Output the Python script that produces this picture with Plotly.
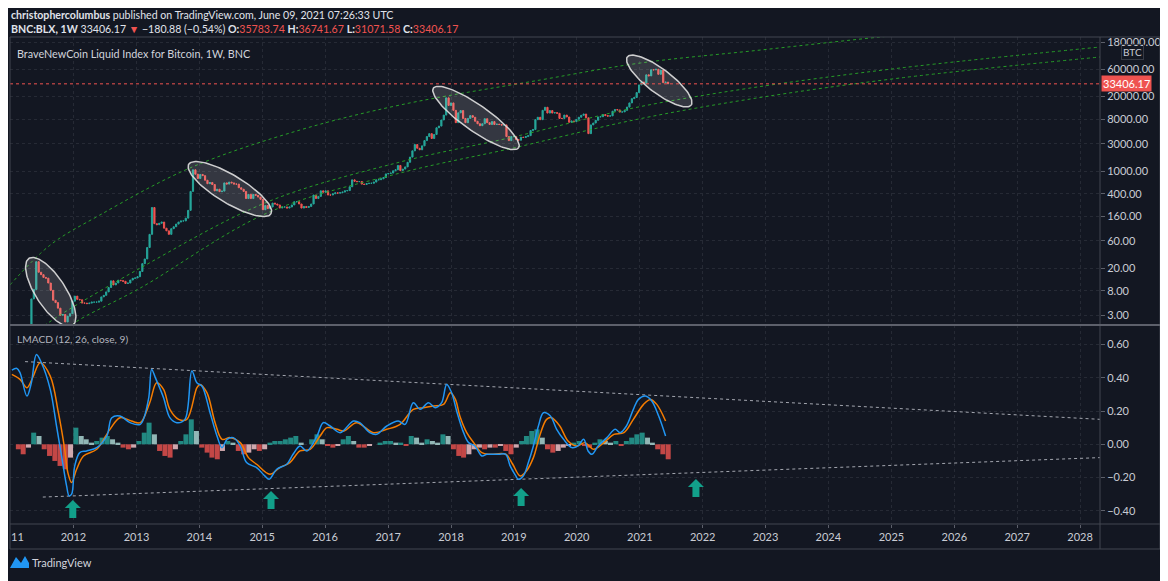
import math
import pandas as pd
import plotly.graph_objects as go

# ---------------------------------------------------------------- data
first_open = 1.6
candle_start = "2011-04-25"          # bi-weekly candles
closes_2011 = [5.8, 8.5, 26.0, 17.0, 15.4, 13.8, 13.4, 11.0, 8.2, 5.5, 5.0, 4.0, 3.0, 3.1, 2.3, 2.9, 3.2, 5.3]
closes_2012 = [6.5, 5.7, 5.6, 4.9, 4.9, 4.8, 4.9, 5.1, 5.1, 5.1, 5.3, 6.3, 6.7, 7.7, 9.2, 12.0, 10.2, 11.0,
               12.3, 12.1, 11.8, 10.8, 11.0, 12.4, 13.3, 13.5, 14.2]
closes_2013 = [17.5, 24, 29, 46, 78, 230, 120, 115, 122, 128, 100, 90, 78, 98, 106, 118, 128, 134, 134, 150,
               205, 440, 1050, 880, 740, 870]
closes_2014 = [830, 690, 600, 630, 580, 450, 480, 435, 445, 620, 590, 640, 620, 590, 590, 510, 480, 440, 330,
               390, 330, 390, 375, 350, 320, 210]
closes_2015 = [250, 220, 235, 275, 265, 255, 225, 235, 235, 225, 235, 255, 290, 290, 265, 225, 240, 230, 240,
               265, 380, 330, 360, 450, 425, 450]
closes_2016 = [380, 380, 400, 415, 410, 418, 428, 450, 455, 530, 700, 660, 650, 655, 590, 580, 605, 610, 610,
               640, 700, 705, 730, 770, 890, 900]
closes_2017 = [920, 1010, 1050, 1250, 1020, 1080, 1180, 1420, 1750, 2250, 2900, 2500, 2350, 2750, 3400, 4000,
               4500, 3700, 4350, 5700, 6100, 7800, 9500, 19000, 14000, 15500]
closes_2018 = [11500, 7000, 10400, 11400, 8300, 7000, 8300, 9300, 8700, 7400, 6700, 6200, 6700, 8200, 7000,
               6500, 7300, 6500, 6600, 6500, 6350, 6400, 4000, 3400, 4000, 4000]
closes_2019 = [3550, 3450, 3900, 3850, 4000, 4150, 5100, 5300, 7900, 8700, 7900, 11500, 13000, 10300, 11400,
               10300, 10500, 10200, 8300, 8300, 9500, 8800, 7100, 7500, 7300, 8000]
closes_2020 = [8700, 9400, 9900, 8500, 4500, 6400, 6900, 7700, 8800, 8900, 9700, 9300, 9100, 9200, 11100,
               11900, 11700, 10700, 10800, 11500, 13100, 15500, 18400, 19300, 23500, 32000]
closes_2021 = [36000, 33500, 48000, 46000, 59000, 58500, 60000, 49000, 58000, 35000, 35800, 33406.17]
last_price = 33406.17

price_ticks = [3, 8, 20, 60, 160, 400, 1000, 3000, 8000, 20000, 60000, 180000]
price_tick_text = ["3.00", "8.00", "20.00", "60.00", "160.00", "400.00", "1000.00", "3000.00",
                   "8000.00", "20000.00", "60000.00", "180000.00"]
macd_ticks = [-0.4, -0.2, 0.0, 0.2, 0.4, 0.6]
macd_tick_text = ["\u22120.40", "\u22120.20", "0.00", "0.20", "0.40", "0.60"]
year_ticks = list(range(2012, 2029))

# LMACD line and signal (decimal year, value)
macd_t = [2011.02, 2011.10, 2011.15, 2011.26, 2011.33, 2011.41, 2011.49, 2011.63, 2011.73, 2011.81, 2011.89,
          2011.93, 2011.97, 2012.02, 2012.10, 2012.21, 2012.37, 2012.53, 2012.61, 2012.74, 2012.90, 2013.06,
          2013.19, 2013.24, 2013.30, 2013.43, 2013.53, 2013.64, 2013.77, 2013.88, 2013.96, 2014.04, 2014.17,
          2014.28, 2014.36, 2014.44, 2014.54, 2014.65, 2014.75, 2014.91, 2015.04, 2015.11, 2015.23, 2015.39,
          2015.49, 2015.60, 2015.71, 2015.87, 2015.97, 2016.08, 2016.24, 2016.45, 2016.55, 2016.71, 2016.82,
          2016.98, 2017.16, 2017.27, 2017.40, 2017.51, 2017.64, 2017.75, 2017.85, 2017.93, 2018.01, 2018.09,
          2018.20, 2018.28, 2018.38, 2018.49, 2018.57, 2018.65, 2018.76, 2018.87, 2018.94, 2019.03, 2019.07,
          2019.15, 2019.23, 2019.31, 2019.39, 2019.47, 2019.58, 2019.68, 2019.79, 2019.92, 2020.02, 2020.11,
          2020.18, 2020.24, 2020.34, 2020.48, 2020.61, 2020.69, 2020.79, 2020.90, 2020.98, 2021.09, 2021.19,
          2021.30, 2021.41]
macd_v = [0.446, 0.456, 0.43, 0.29, 0.37, 0.54, 0.49, 0.33, 0.11, -0.07, -0.25, -0.31, -0.30,
          -0.13, -0.05, -0.04, -0.02, 0.05, 0.16, 0.17, 0.13,
          0.12, 0.27, 0.45, 0.40, 0.28, 0.16, 0.13, 0.15, 0.44, 0.37,
          0.35, 0.19, 0.05, -0.02, 0.03, 0.04, -0.01, -0.11, -0.14,
          -0.19, -0.21, -0.15, -0.12, -0.06, -0.01, -0.04, 0.05, 0.13,
          0.11, 0.07, 0.14, 0.13, 0.07, 0.06, 0.11,
          0.14, 0.12, 0.25, 0.21, 0.25, 0.22, 0.25, 0.36,
          0.31, 0.20, 0.07, 0.01, -0.01, -0.07, -0.06, -0.06, -0.06, -0.06, -0.13,
          -0.19, -0.21, -0.19, -0.11, -0.01, 0.11, 0.19, 0.17, 0.09, 0.03, -0.02,
          -0.01, 0.03, -0.04, -0.06, -0.01, 0.04, 0.09, 0.07, 0.11, 0.21, 0.27,
          0.29, 0.26, 0.17, 0.05]
signal_t = [2011.02, 2011.15, 2011.26, 2011.35, 2011.47, 2011.63, 2011.76, 2011.86, 2011.91, 2011.97,
            2012.05, 2012.16, 2012.37, 2012.58, 2012.74, 2012.92, 2013.06, 2013.21, 2013.32, 2013.43,
            2013.53, 2013.67, 2013.80, 2013.96, 2014.01, 2014.12, 2014.25, 2014.36, 2014.49, 2014.65,
            2014.78, 2014.91, 2015.12, 2015.28, 2015.44, 2015.60, 2015.76, 2015.92, 2016.03, 2016.19,
            2016.30, 2016.50, 2016.77, 2016.98, 2017.19, 2017.40, 2017.56, 2017.72, 2017.88, 2017.99,
            2018.07, 2018.14, 2018.25, 2018.36, 2018.49, 2018.62, 2018.87, 2018.98, 2019.10, 2019.20,
            2019.31, 2019.41, 2019.52, 2019.60, 2019.73, 2019.86, 2020.00, 2020.13, 2020.27, 2020.43,
            2020.59, 2020.75, 2020.90, 2021.06, 2021.17, 2021.27, 2021.41]
signal_v = [0.42, 0.39, 0.34, 0.40, 0.49, 0.41, 0.19, -0.03, -0.17, -0.23,
            -0.15, -0.07, -0.03, 0.09, 0.16, 0.14,
            0.13, 0.25, 0.37, 0.33, 0.21, 0.15, 0.15, 0.34,
            0.36, 0.31, 0.13, 0.03, 0.04, 0.01, -0.08, -0.12,
            -0.18, -0.14, -0.11, -0.04, -0.03, 0.05,
            0.10, 0.09, 0.08, 0.13, 0.07, 0.09,
            0.12, 0.21, 0.22, 0.23, 0.24, 0.31,
            0.27, 0.17, 0.07, 0.01, -0.05, -0.06, -0.06, -0.12,
            -0.19, -0.16, -0.08, 0.05, 0.15, 0.16, 0.11, 0.02,
            -0.01, 0.01, -0.03, 0.01, 0.06, 0.07, 0.15,
            0.24, 0.27, 0.24, 0.14]
# monthly histogram, Jan 2011 .. Jun 2021
hist_start = "2011-01-01"
hist_v = [0.00, -0.03, -0.06, -0.02, 0.07, 0.05, -0.03, -0.07, -0.10, -0.13, -0.15, -0.08,
          0.10, 0.05, 0.03, 0.01, 0.02, 0.04, 0.05, 0.03, 0.01, -0.02, -0.03, -0.02,
          0.02, 0.07, 0.13, 0.06, -0.04, -0.07, -0.08, -0.03, 0.02, 0.06, 0.15, 0.08,
          -0.02, -0.05, -0.08, -0.09, -0.04, 0.02, 0.01, -0.04, -0.06, -0.05, -0.03, -0.04,
          -0.03, 0.01, 0.02, 0.02, 0.03, 0.04, 0.05, 0.01, 0.00, 0.03, 0.06, 0.03,
          -0.01, -0.02, -0.01, 0.03, 0.05, 0.02, -0.02, -0.02, -0.01, 0.00, 0.01, 0.02,
          0.02, 0.01, 0.01, -0.01, 0.05, 0.04, 0.01, 0.03, 0.02, 0.01, 0.06, 0.05,
          -0.03, -0.07, -0.08, -0.06, -0.03, -0.02, -0.03, -0.02, -0.02, -0.01, -0.04, -0.06,
          -0.02, 0.02, 0.05, 0.08, 0.09, 0.04, -0.03, -0.05, -0.04, -0.02, -0.01, 0.01,
          0.02, -0.01, -0.02, 0.01, 0.03, 0.02, 0.01, 0.02, -0.01, 0.02, 0.04, 0.06,
          0.07, 0.04, 0.01, -0.03, -0.06, -0.09]

# green channel drawings on the price pane (decimal year, price)
upper_curve_t = [2010.99, 2011.63, 2012.42, 2013.85, 2015.60, 2017.19, 2019.42, 2021.01, 2022.92, 2024.82, 2026.73]
upper_curve_p = [10.2, 50.8, 170, 1130, 5210, 14260, 39000, 77300, 130300, 220000, 350000]
mid_line_t = [2011.47, 2011.60, 2013.06, 2015.08, 2017.19, 2018.99, 2020.90, 2022.76, 2025.14, 2028.32]
mid_line_p = [1.67, 2.22, 20.1, 287, 1436, 3930, 12620, 28250, 63200, 147000]
low_line_t = [2011.91, 2012.02, 2013.06, 2015.08, 2017.19, 2018.99, 2020.90, 2022.76, 2025.14, 2028.32]
low_line_p = [1.67, 2.22, 9.0, 184.5, 922, 2523, 7760, 18150, 42300, 98400]

# highlighted ellipses (centre date / price)
ellipse_t = ["2011-08-22", "2014-06-27", "2018-05-26", "2021-04-24"]
ellipse_p = [7.67, 484, 8450, 37450]

# dotted LMACD trend lines
lm_upper_t = ["2011-03-26", "2028-04-26"]
lm_upper_v = [0.497, 0.150]
lm_lower_t = ["2011-07-07", "2028-04-26"]
lm_lower_v = [-0.317, -0.080]

# teal arrows (tip date / value)
arrow_t = ["2011-12-28", "2015-02-21", "2019-02-12", "2021-11-23"]
arrow_v = [-0.335, -0.281, -0.263, -0.209]

# ---------------------------------------------------------------- geometry / style
OFF = 8                      # page body margin of the browser
W, H = 1168 - OFF, 581 - OFF
L_PX, R_PX = 10, 1100        # positions in window pixels
TOP_PX, SEP_PX, BOT_PX = 37, 325, 524
X0 = pd.Timestamp("2010-12-28 12:00")
X1 = pd.Timestamp("2028-04-26")
LOG_LO, LOG_HI = 0.3077, 5.3427
M_LO, M_HI = -0.479, 0.717

BG = "#131722"
FRAME = "#434651"
GRID = "#262a35"
TXT = "#c9ccd4"
FONT = "Lato, 'Open Sans', sans-serif"
UP, DOWN = "#26a69a", "#ef5350"


def yr(y):
    n = int(math.floor(y))
    return pd.Timestamp(n, 1, 1) + pd.Timedelta(days=(y - n) * 365.25)


def t2px(t):
    return L_PX + (pd.Timestamp(t) - X0) / (X1 - X0) * (R_PX - L_PX)


def px2t(x):
    return X0 + (x - L_PX) / (R_PX - L_PX) * (X1 - X0)


def p2py(p):
    return TOP_PX + (LOG_HI - math.log10(p)) / (LOG_HI - LOG_LO) * (SEP_PX - TOP_PX)


def py2p(y):
    return 10 ** (LOG_HI - (y - TOP_PX) / (SEP_PX - TOP_PX) * (LOG_HI - LOG_LO))


def v2py(v):
    return SEP_PX + (M_HI - v) / (M_HI - M_LO) * (BOT_PX - SEP_PX)


def PX(x):
    return (x - L_PX) / (R_PX - L_PX)


def PY(y):
    return (BOT_PX - y) / (BOT_PX - TOP_PX)


def path(points, close=True):
    s = "M " + " L ".join(f"{PX(x):.5f},{PY(y):.5f}" for x, y in points)
    return s + (" Z" if close else "")


fig = go.Figure()

# green channel lines
for tt, pp in [(upper_curve_t, upper_curve_p), (mid_line_t, mid_line_p), (low_line_t, low_line_p)]:
    fig.add_trace(go.Scatter(x=[yr(v) for v in tt], y=pp, mode="lines", line_shape="spline",
                             line=dict(color="rgba(40,170,40,0.9)", width=1, dash="dot"),
                             hoverinfo="skip", xaxis="x", yaxis="y"))

# candles
closes = (closes_2011 + closes_2012 + closes_2013 + closes_2014 + closes_2015 + closes_2016 +
          closes_2017 + closes_2018 + closes_2019 + closes_2020 + closes_2021)
opens = [first_open] + closes[:-1]
dates = pd.date_range(candle_start, periods=len(closes), freq="14D") + pd.Timedelta(days=7)
fig.add_trace(go.Candlestick(x=dates, open=opens, close=closes,
                             high=[max(o, c) for o, c in zip(opens, closes)],
                             low=[min(o, c) for o, c in zip(opens, closes)],
                             increasing=dict(line=dict(color=UP, width=1), fillcolor=UP),
                             decreasing=dict(line=dict(color=DOWN, width=1), fillcolor=DOWN),
                             whiskerwidth=0, xaxis="x", yaxis="y", hoverinfo="skip"))

# ellipses (outline generated in screen space, mapped back to data)
ell_a = [40, 48, 52, 40]
ell_b = [15, 14, 13, 12]
ell_ang = [57, 31, 35, 37]
for t, p, a, b, ang in zip(ellipse_t, ellipse_p, ell_a, ell_b, ell_ang):
    cx, cy, phi = t2px(t), p2py(p), math.radians(ang)
    xs, ys = [], []
    for k in range(121):
        th = 2 * math.pi * k / 120
        x = cx + a * math.cos(th) * math.cos(phi) - b * math.sin(th) * math.sin(phi)
        y = cy + a * math.cos(th) * math.sin(phi) + b * math.sin(th) * math.cos(phi)
        xs.append(px2t(x))
        ys.append(py2p(y))
    fig.add_trace(go.Scatter(x=xs, y=ys, mode="lines", fill="toself",
                             fillcolor="rgba(255,255,255,0.14)",
                             line=dict(color="rgba(225,225,225,0.9)", width=1.5),
                             hoverinfo="skip", xaxis="x", yaxis="y"))

# last price line
fig.add_trace(go.Scatter(x=[X0, X1], y=[last_price, last_price], mode="lines",
                         line=dict(color="#ef5350", width=1, dash="dot"), hoverinfo="skip",
                         xaxis="x", yaxis="y"))

# histogram
hx = pd.date_range(hist_start, periods=len(hist_v), freq="MS") + pd.Timedelta(days=14)
hcol = []
for i, h in enumerate(hist_v):
    prev = hist_v[i - 1] if i else 0
    if h >= 0:
        hcol.append("#26a69a" if h >= prev else "#b2dfdb")
    else:
        hcol.append("#ef5350" if h <= prev else "#ffcdd2")
fig.add_trace(go.Bar(x=hx, y=hist_v, marker=dict(color=hcol, line=dict(width=0)), opacity=0.8,
                     width=29 * 86400000, xaxis="x2", yaxis="y2", hoverinfo="skip"))

# trend lines in LMACD pane
for tt, vv in [(lm_upper_t, lm_upper_v), (lm_lower_t, lm_lower_v)]:
    fig.add_trace(go.Scatter(x=tt, y=vv, mode="lines", line=dict(color="#a3a6af", width=1, dash="dot"),
                             hoverinfo="skip", xaxis="x2", yaxis="y2"))

fig.add_trace(go.Scatter(x=[yr(v) for v in signal_t], y=signal_v, mode="lines", line_shape="spline",
                         line=dict(color="#f57c00", width=1.5), hoverinfo="skip", xaxis="x2", yaxis="y2"))
fig.add_trace(go.Scatter(x=[yr(v) for v in macd_t], y=macd_v, mode="lines", line_shape="spline",
                         line=dict(color="#2196f3", width=1.5), hoverinfo="skip", xaxis="x2", yaxis="y2"))

# ---------------------------------------------------------------- layout
split = (BOT_PX - SEP_PX) / (BOT_PX - TOP_PX)
year_vals = [pd.Timestamp(y, 1, 1) for y in year_ticks]
common_x = dict(type="date", range=[X0, X1], tickvals=year_vals, showgrid=True, gridcolor=GRID,
                griddash="dot", gridwidth=1, zeroline=False, showline=False, automargin=False)
fig.update_layout(
    width=W, height=H, paper_bgcolor=BG, plot_bgcolor=BG, showlegend=False,
    margin=dict(l=L_PX - OFF, r=W - (R_PX - OFF), t=TOP_PX - OFF, b=H - (BOT_PX - OFF), pad=0),
    font=dict(family=FONT, size=11, color=TXT),
    xaxis=dict(domain=[0, 1], anchor="y", showticklabels=False, ticks="",
               rangeslider=dict(visible=False), **common_x),
    xaxis2=dict(domain=[0, 1], anchor="y2", matches="x", ticktext=[str(y) for y in year_ticks],
                ticks="outside", ticklen=3, tickcolor="#5d606b", tickfont=dict(size=11, color=TXT),
                **common_x),
    yaxis=dict(domain=[split, 1], anchor="x", type="log", range=[LOG_LO, LOG_HI], side="right",
               tickvals=price_ticks, ticktext=price_tick_text, ticks="outside", ticklen=4,
               tickcolor="#5d606b", showgrid=True, gridcolor=GRID, griddash="dot", zeroline=False,
               showline=False, automargin=False, tickfont=dict(size=11, color=TXT)),
    yaxis2=dict(domain=[0, split], anchor="x2", range=[M_LO, M_HI], side="right",
                tickvals=macd_ticks, ticktext=macd_tick_text, ticks="outside", ticklen=4,
                tickcolor="#5d606b", showgrid=True, gridcolor=GRID, griddash="dot", zeroline=False,
                showline=False, automargin=False, tickfont=dict(size=11, color=TXT)),
)

shapes = [
    dict(type="rect", xref="paper", yref="paper", x0=PX(10), x1=PX(1160), y0=PY(549), y1=PY(37),
         line=dict(color=FRAME, width=1)),
    dict(type="line", xref="paper", yref="paper", x0=PX(1100), x1=PX(1100), y0=PY(549), y1=PY(37),
         line=dict(color=FRAME, width=1)),
    dict(type="line", xref="paper", yref="paper", x0=PX(10), x1=PX(1160), y0=PY(524), y1=PY(524),
         line=dict(color=FRAME, width=1)),
    dict(type="line", xref="paper", yref="paper", x0=PX(10), x1=PX(1160), y0=PY(325), y1=PY(325),
         line=dict(color="#5d606b", width=2)),
]
for t, v in zip(arrow_t, arrow_v):
    x, y = t2px(t), v2py(v)
    pts = [(x, y), (x + 8, y + 8), (x + 3.5, y + 8), (x + 3.5, y + 18), (x - 3.5, y + 18),
           (x - 3.5, y + 8), (x - 8, y + 8)]
    shapes.append(dict(type="path", xref="paper", yref="paper", path=path(pts),
                       fillcolor="#12a08a", line=dict(width=0)))
# TradingView logo
logo_pts = [(10, 568), (16, 557), (21, 563), (25, 556), (29, 563), (29, 568)]
shapes.append(dict(type="path", xref="paper", yref="paper", path=path(logo_pts), fillcolor="#2196f3",
                   line=dict(width=0)))
fig.update_layout(shapes=shapes)

R = "#ef5350"
line1 = ("<b>christophercolumbus</b> published on TradingView.com, June 09, 2021 07:26:33 UTC")
line2 = (f"<b>BNC:BLX, 1W</b> 33406.17 <span style='color:{R}'>\u25bc</span> \u2212180.88 (\u22120.54%) "
         f"<b>O:</b><span style='color:{R}'>35783.74</span> <b>H:</b><span style='color:{R}'>36741.67</span> "
         f"<b>L:</b><span style='color:{R}'>31071.58</span> <b>C:</b><span style='color:{R}'>33406.17</span>")


def ann(x, y, text, size=11, color=TXT, xanchor="left", **kw):
    return dict(x=PX(x), y=PY(y), xref="paper", yref="paper", text=text, showarrow=False,
                xanchor=xanchor, yanchor="middle", font=dict(family=FONT, size=size, color=color), **kw)


annotations = [
    ann(9, 15, line1, size=10.6, color="#e0e3eb"),
    ann(9, 29, line2, size=10.6, color="#e0e3eb"),
    ann(15, 53, "BraveNewCoin Liquid Index for Bitcoin, 1W, BNC", size=10.8, color="#d1d4dc"),
    ann(15, 339, "LMACD (12, 26, close, 9)", size=10.2, color="#b2b5be"),
    ann(9, 536, "11", size=11, color=TXT),
    ann(30, 562, "TradingView", size=11, color="#d1d4dc"),
    ann(1132, 52, "BTC", size=10, color=TXT, xanchor="center", bordercolor="#363a45", borderpad=1),
    ann(1101, p2py(last_price), "33406.17", size=11, color="#ffffff", bgcolor="#ef5350", borderpad=1),
]
fig.update_layout(annotations=annotations)

fig.write_html("out.html")
